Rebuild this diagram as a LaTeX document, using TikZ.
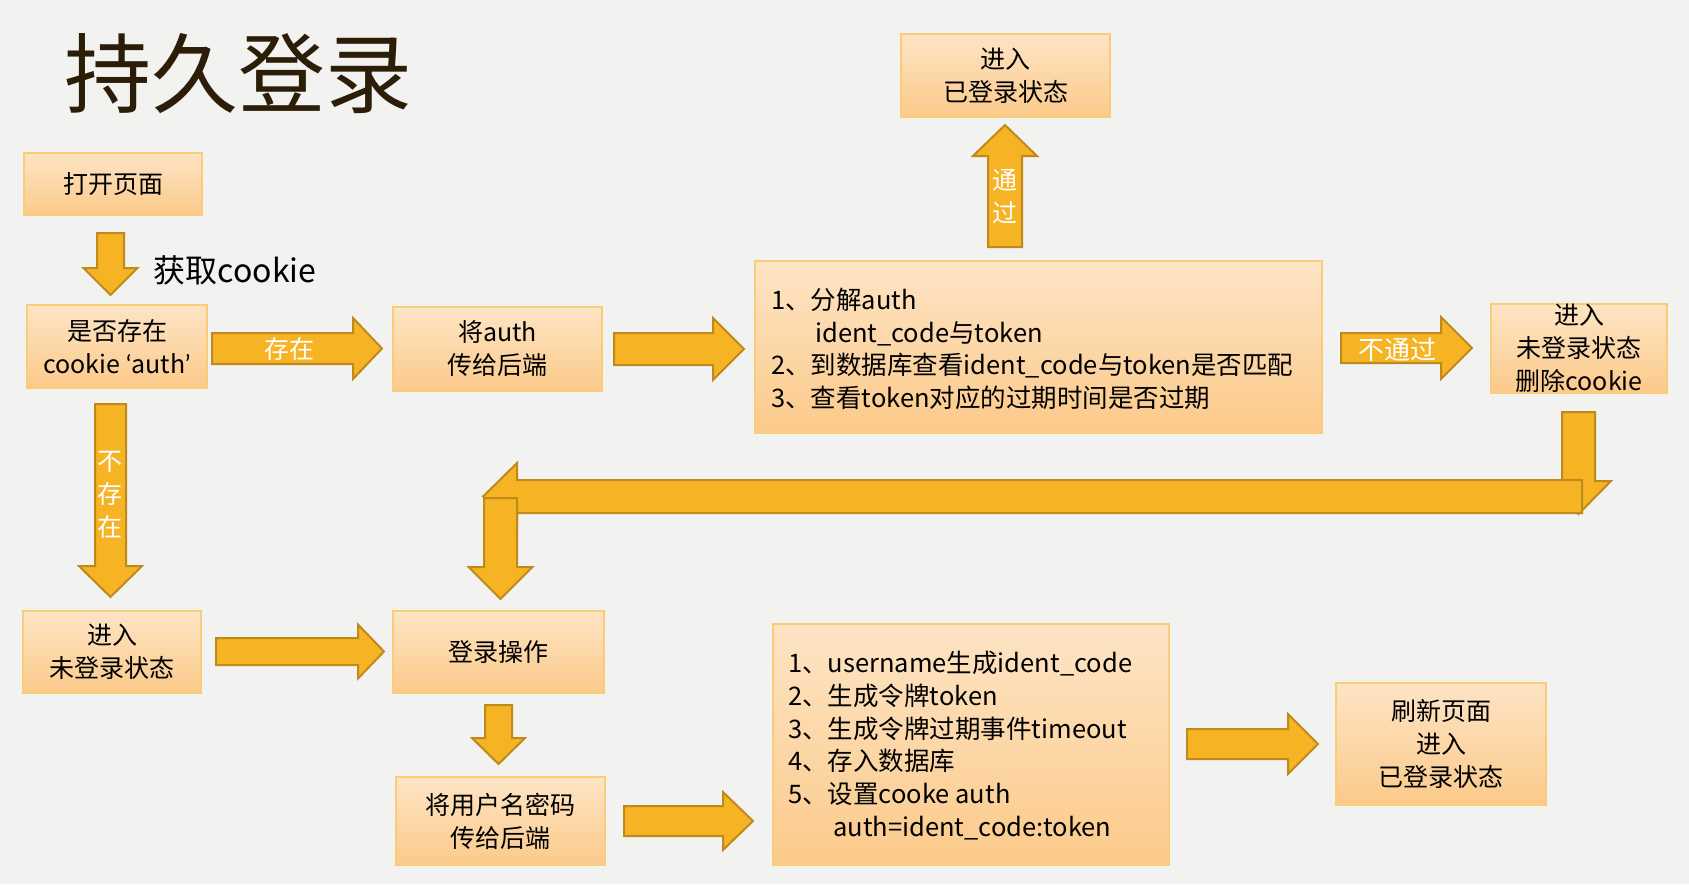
\documentclass[tikz,border=0pt]{standalone}
\usepackage{fontspec}
\setmainfont{Noto Sans CJK SC}
\newfontfamily\latf{Lato}
\definecolor{bgc}{HTML}{F2F2F0}
\definecolor{boxtop}{HTML}{FDE4C5}
\definecolor{boxbot}{HTML}{FCCA8A}
\definecolor{boxline}{HTML}{F8CC78}
\definecolor{arrfill}{HTML}{F6B324}
\definecolor{arrline}{HTML}{BF8A1C}
\definecolor{titlec}{HTML}{2B1D08}
\newcommand\BArH[6]{% x0, xh, xt, yc, shaft half, head half
  \draw[blk] (#1,#4-#5) -- (#2,#4-#5) -- (#2,#4-#6) -- (#3,#4) -- (#2,#4+#6) -- (#2,#4+#5) -- (#1,#4+#5) -- cycle;}
\newcommand\BArV[6]{% y0, yh, yt, xc, shaft half, head half
  \draw[blk] (#4-#5,#1) -- (#4-#5,#2) -- (#4-#6,#2) -- (#4,#3) -- (#4+#6,#2) -- (#4+#5,#2) -- (#4+#5,#1) -- cycle;}
\tikzset{
  box/.style={rectangle, top color=boxtop, bottom color=boxbot, draw=boxline, line width=2pt,
    inner sep=0pt, font=\fontsize{25}{33}\selectfont, align=center},
  txt/.style={inner sep=0pt, font=\fontsize{25.5}{32.7}\selectfont, align=left},
  blk/.style={fill=arrfill, draw=arrline, line width=2pt, line join=miter},
  lbl/.style={text=white, font=\fontsize{25}{33}\selectfont, inner sep=0pt, align=center},
}
\begin{document}
\begin{tikzpicture}[x=1pt, y=-1pt]
\fill[bgc] (0,0) rectangle (1689,884);
\useasboundingbox (0,0) rectangle (1689,884);

% title
\node[inner sep=0pt, text=titlec, font=\fontsize{87}{87}\selectfont] (title) at (238,74) {持久登录};

% boxes
\node[box, minimum width=178pt, minimum height=62pt] (open) at (113,184) {打开页面};
\node[box, minimum width=180pt, minimum height=83pt] (exist) at (117,346.5) {是否存在\\cookie {\latf ‘}auth{\latf ’}};
\node[box, minimum width=209pt, minimum height=84pt] (send) at (497.5,349) {将auth\\传给后端};
\node[box, minimum width=567pt, minimum height=172pt] (check) at (1038.5,347) {};
\node[txt, anchor=west] (checkt) at (771,349) {1、分解auth\\\hspace*{44pt}ident\_code与token\\2、到数据库查看ident\_code与token是否匹配\\3、查看token对应的过期时间是否过期};
\node[box, minimum width=209pt, minimum height=83pt] (logged) at (1005.5,75.5) {进入\\已登录状态};
\node[box, minimum width=176pt, minimum height=83pt] (fail) at (1579,348.5) {进入\\未登录状态\\删除cookie};
\node[box, minimum width=178pt, minimum height=82pt] (nolog) at (112,652) {进入\\未登录状态};
\node[box, minimum width=211pt, minimum height=82pt] (login) at (498.5,652) {登录操作};
\node[box, minimum width=209pt, minimum height=88pt] (sendpw) at (500.5,821) {将用户名密码\\传给后端};
\node[box, minimum width=396pt, minimum height=241pt] (gen) at (971,744.5) {};
\node[txt, anchor=west] (gent) at (788,745.5) {1、username生成ident\_code\\2、生成令牌token\\3、生成令牌过期事件timeout\\4、存入数据库\\5、设置cooke auth\\\hspace*{45pt}auth=ident\_code:token};
\node[box, minimum width=210pt, minimum height=122pt] (refresh) at (1441,744) {刷新页面\\进入\\已登录状态};

% block arrows
\BArV{233}{268}{295}{110.5}{13.5}{27}
\node[inner sep=0pt, font=\fontsize{32}{32}\selectfont] (getck) at (235,270) {获取cookie};
\BArH{212}{353}{382}{348.5}{15.5}{30.5}
\node[lbl] (l1) at (289,349) {存在};
\BArH{614}{713}{744}{349}{16}{31}
\BArV{247}{156}{125}{1005}{17}{32}
\node[lbl] (l2) at (1005,196.5) {通\\过};
\BArH{1341}{1441}{1472}{348}{15}{31}
\node[lbl, font=\fontsize{26}{33}\selectfont] (l3) at (1397,350) {不通过};
\BArV{412}{481}{514}{1578.5}{16.5}{32.5}
\BArH{1582}{517}{483}{496.5}{16.5}{33.5}
\BArV{498}{567}{599}{500.5}{16.5}{32}
\BArV{404}{566}{597}{110.5}{15.5}{31.5}
\node[lbl] (l4) at (110,494.5) {不\\存\\在};
\BArH{216}{358}{384}{651.5}{13.5}{27}
\BArV{705}{738}{764}{498.5}{13.5}{26.5}
\BArH{624}{723}{753}{821}{15}{29}
\BArH{1187}{1288}{1318}{744}{15}{30}
\end{tikzpicture}
\end{document}
